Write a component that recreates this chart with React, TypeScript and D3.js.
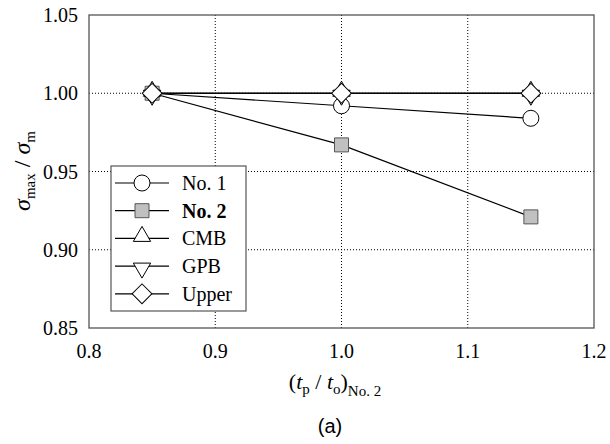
import React from "react";
import * as d3 from "d3";

// ratio values along x
const ratios = [0.85, 1.0, 1.15];
const no1 = [1.0, 0.992, 0.984];
const no2 = [1.0, 0.967, 0.921];
const cmb = [1.0, 1.0, 1.0];
const gpb = [1.0, 1.0, 1.0];
const upper = [1.0, 1.0, 1.0];

const xTicks = [0.8, 0.9, 1.0, 1.1, 1.2];
const yTicks = [0.85, 0.9, 0.95, 1.0, 1.05];

const seriesNames = ["No. 1", "No. 2", "CMB", "GPB", "Upper"];

const W = 610;
const H = 444;
const margin = { top: 15, right: 16, bottom: 116, left: 89 };
const x = d3.scaleLinear().domain([0.8, 1.2]).range([margin.left, W - margin.right]);
const y = d3.scaleLinear().domain([0.85, 1.05]).range([H - margin.bottom, margin.top]);
const serif = '"Liberation Serif"';

const sym = [
  d3.symbol().type(d3.symbolCircle).size(Math.PI * 8 * 8)(),
  d3.symbol().type(d3.symbolSquare).size(14 * 14)(),
  d3.symbol().type(d3.symbolTriangle).size(130)(),
  d3.symbol().type(d3.symbolTriangle).size(130)(),
  d3.symbol().type(d3.symbolSquare).size(14 * 14)(),
];
const fills = ["#fff", "#c0c0c0", "#fff", "#fff", "#fff"];

function Marker({ k, cx, cy }: { k: number; cx: number; cy: number }) {
  let tr = `translate(${cx},${cy})`;
  if (k === 3) tr = `translate(${cx},${cy + 2}) rotate(180)`;
  if (k === 4) tr = `translate(${cx},${cy}) rotate(45)`;
  if (k === 2) tr = `translate(${cx},${cy - 2})`;
  return <path d={sym[k] as string} transform={tr} fill={fills[k]} stroke={k === 1 ? "#555" : "#000"} strokeWidth={1} />;
}

export default function App() {
  const all = [no1, no2, cmb, gpb, upper];
  const line = d3.line<number>().x((d, i) => x(ratios[i])).y((d) => y(d));
  const sub = { fontSize: "15px" };

  return (
    <svg width={W} height={H} style={{ position: "absolute", left: 0, top: 0, background: "#fff" }}>
      <g>
        {xTicks.slice(1, -1).map((t) => (
          <line key={t} x1={x(t)} x2={x(t)} y1={y(0.85)} y2={y(1.05)} stroke="#000" strokeDasharray="1,2" />
        ))}
        {yTicks.slice(1, -1).map((t) => (
          <line key={t} y1={y(t)} y2={y(t)} x1={x(0.8)} x2={x(1.2)} stroke="#000" strokeDasharray="1,2" />
        ))}
      </g>
      {all.map((s, k) => (
        <path key={k} d={line(s) as string} fill="none" stroke="#000" strokeWidth={1.2} />
      ))}
      {all.map((s, k) => (
        <g key={k}>
          {s.map((v, i) => (
            <Marker key={i} k={k} cx={x(ratios[i])} cy={y(v)} />
          ))}
        </g>
      ))}

      <g>
        <rect x={111} y={166} width={135} height={145} fill="#fff" stroke="#555" strokeWidth={1.2} />
        {seriesNames.map((n, k) => {
          const cy = 183 + k * 27.7;
          return (
            <g key={n}>
              <line x1={115} x2={169} y1={cy} y2={cy} stroke="#000" strokeWidth={1.2} />
              <Marker k={k} cx={142} cy={cy} />
              <text x={182} y={cy + 7} style={{ fontFamily: serif, fontSize: "20px", fontWeight: k === 1 ? "bold" : "normal" }}>
                {n}
              </text>
            </g>
          );
        })}
      </g>

      <rect x={x(0.8)} y={y(1.05)} width={x(1.2) - x(0.8)} height={y(0.85) - y(1.05)} fill="none" stroke="#555" strokeWidth={1.3} />

      {xTicks.map((t) => (
        <text key={t} x={x(t)} y={y(0.85) + 30} textAnchor="middle" style={{ fontFamily: serif, fontSize: "20px" }}>
          {d3.format(".1f")(t)}
        </text>
      ))}
      {yTicks.map((t) => (
        <text key={t} x={x(0.8) - 11} y={y(t) + 7} textAnchor="end" style={{ fontFamily: serif, fontSize: "20px" }}>
          {d3.format(".2f")(t)}
        </text>
      ))}

      <text transform="translate(30,171) rotate(-90)" textAnchor="middle" style={{ fontFamily: serif, fontSize: "24px" }}>
        <tspan style={{ fontStyle: "italic" }}>σ</tspan>
        <tspan style={sub} dy={5}>max</tspan>
        <tspan dy={-5}> / </tspan>
        <tspan style={{ fontStyle: "italic" }}>σ</tspan>
        <tspan style={sub} dy={5}>m</tspan>
      </text>

      <text x={335} y={389} textAnchor="middle" style={{ fontFamily: serif, fontSize: "22px" }}>
        <tspan>(</tspan>
        <tspan style={{ fontStyle: "italic" }}>t</tspan>
        <tspan style={sub} dy={5}>p</tspan>
        <tspan dy={-5}> / </tspan>
        <tspan style={{ fontStyle: "italic" }}>t</tspan>
        <tspan style={sub} dy={5}>o</tspan>
        <tspan dy={-5}>)</tspan>
        <tspan style={sub} dy={7}>No. 2</tspan>
      </text>

      <text x={330} y={433} textAnchor="middle" style={{ fontFamily: '"Liberation Sans"', fontSize: "20px" }}>
        (a)
      </text>
    </svg>
  );
}
